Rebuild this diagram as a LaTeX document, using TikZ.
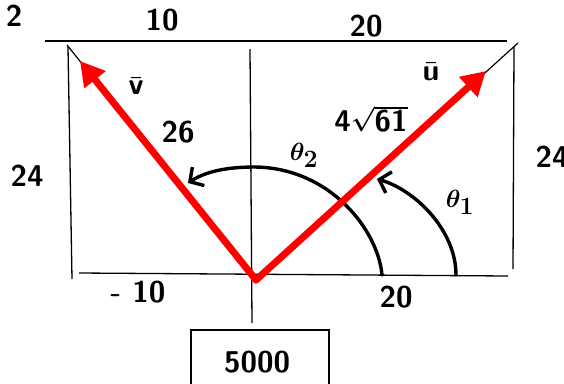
\documentclass[tikz,border=0pt]{standalone}
\usepackage{amsmath,amssymb}
\usepackage{xcolor}
\usetikzlibrary{arrows.meta}

\tikzset{
  lbl/.style={font=\fontsize{30}{34}\selectfont\sffamily\bfseries\boldmath},
  anglbl/.style={font=\fontsize{38}{42}\selectfont\boldmath},
  frame/.style={line width=1.3pt},
  diag/.style={line width=1.2pt},
  vec/.style={red, line width=7pt, line cap=round, -{Triangle[length=24pt,width=26pt]}},
  angarc/.style={line width=3.4pt, line cap=round, -{Straight Barb[length=10pt,width=22pt]}}
}

\begin{document}
\begin{tikzpicture}[x=1pt,y=-1pt]
  \clip (0,0) rectangle (564,383);
  \useasboundingbox (0,0) rectangle (564,383);
  \coordinate (O) at (256,280);
  \coordinate (cl) at (67,45);
  \coordinate (cr) at (518,43);
  \coordinate (vt) at (80,61);
  \coordinate (ut) at (486,71);
  \coordinate (a1s) at (456,275);
  \coordinate (a1e) at (377,179);
  \coordinate (a2s) at (382,275);
  \coordinate (a2e) at (188,183);
  \draw[frame] (45,41) -- (507,41);
  \draw[frame] (68,47) -- (72,279);
  \draw[frame] (250,49) -- (252,323);
  \draw[frame] (514,47) -- (513,269);
  \draw[frame] (79,273) -- (508,276);
  \draw[frame] (191,330) rectangle (329,400);
  \node[lbl] (total) at (257,362) {5000};
  \draw[diag] (O) -- (cl);
  \draw[diag] (O) -- (cr);
  \draw[angarc] (a1s) .. controls (456,230) and (415,190) .. (a1e);
  \draw[angarc] (a2s) .. controls (378,230) and (330,168) .. (255,167) .. controls (225,167) and (205,172) .. (a2e);
  \draw[vec] (O) -- (vt);
  \draw[vec] (O) -- (ut);
  \node[lbl] (corner) at (14,16) {2};
  \node[lbl] (topl) at (162,20) {10};
  \node[lbl] (topr) at (366,26) {20};
  \node[lbl] (sidel) at (27,176) {24};
  \node[lbl] (sider) at (552,157) {24};
  \node[lbl] (botl) at (138,292) {- 10};
  \node[lbl] (botr) at (396,297) {20};
  \node[lbl] (vlen) at (178,132) {26};
  \node[lbl] (vname) at (136,86) {$\bar{\text{v}}$};
  \node[lbl] (uname) at (431,72) {$\bar{\text{u}}$};
  \node[lbl] (ulen) at (371,119) {4$\sqrt{\text{61}}$};
  \node[anglbl] (th2) at (304,155) {$\theta_2$};
  \node[anglbl] (th1) at (460,202) {$\theta_1$};
\end{tikzpicture}
\end{document}
